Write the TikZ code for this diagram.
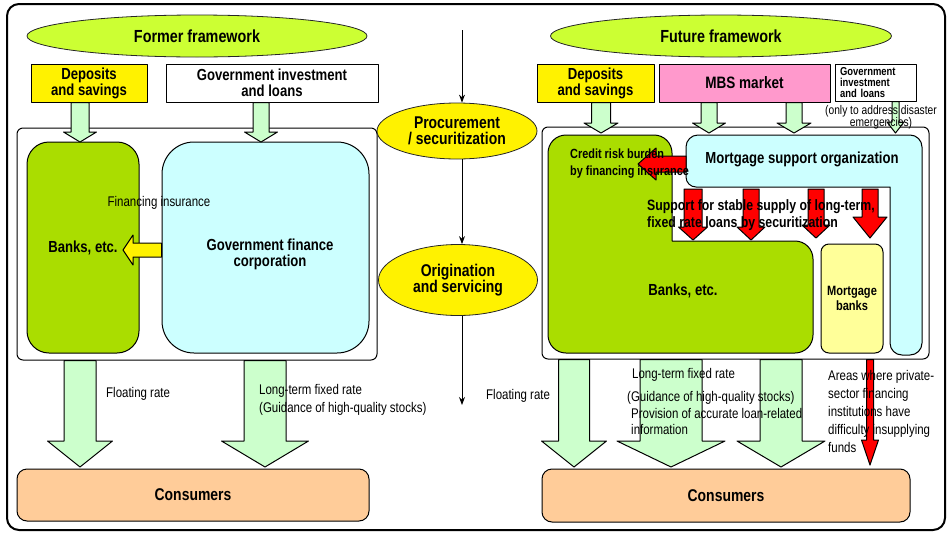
\documentclass[tikz,border=0pt]{standalone}
\usepackage{fontspec}
\setmainfont{Liberation Sans}[FakeStretch=0.82]
\usetikzlibrary{shapes.geometric,arrows.meta,calc}
\definecolor{ellgreen}{HTML}{CCFF33}
\definecolor{bankgreen}{HTML}{AADD00}
\definecolor{paleblue}{HTML}{CCFFFF}
\definecolor{palegreen}{HTML}{CCFFCC}
\definecolor{peach}{HTML}{FFCC99}
\definecolor{mbspink}{HTML}{FF99CC}
\definecolor{paleyellow}{HTML}{FFFF99}
% block arrows: style, start, tip, shaft half width, head half width, head length
\newcommand\blkdown[6]{\draw[#1] let \p1=(#2), \p2=(#3) in
  (\x2-#4,\y1) -- (\x2-#4,\y2+#6) -- (\x2-#5,\y2+#6) -- (\x2,\y2) -- (\x2+#5,\y2+#6) -- (\x2+#4,\y2+#6) -- (\x2+#4,\y1) -- cycle;}
\newcommand\blkleft[6]{\draw[#1] let \p1=(#2), \p2=(#3) in
  (\x1,\y2+#4) -- (\x2+#6,\y2+#4) -- (\x2+#6,\y2+#5) -- (\x2,\y2) -- (\x2+#6,\y2-#5) -- (\x2+#6,\y2-#4) -- (\x1,\y2-#4) -- cycle;}
\begin{document}
\begin{tikzpicture}[x=1pt,y=-1pt,line join=round,>={Stealth[length=8pt,width=6pt]},
	txt/.style={inner sep=0pt,align=center,font=\bfseries\fontsize{16}{16}\selectfont},
	bx/.style={txt,draw,line width=1pt},
	ttl/.style={ellipse,draw=black!85,line width=.8pt,fill=ellgreen,inner sep=0pt,font=\bfseries\fontsize{17.5}{17}\selectfont},
	oval/.style={ellipse,draw=black!85,line width=.8pt,fill=yellow,inner sep=0pt,align=center,font=\bfseries\fontsize{17}{16.5}\selectfont},
	lbl/.style={inner sep=0pt,align=left,font=\fontsize{14}{18}\selectfont},
	grn/.style={draw,line width=1pt,fill=palegreen},
	redarr/.style={draw,line width=1pt,fill=red},
	yelarr/.style={draw,line width=1pt,fill=yellow}]
	\useasboundingbox (0,0) rectangle (951,536);
	\draw[line width=2pt,rounded corners=12pt] (7,4) rectangle (945,530);
	
	% former framework
	\node[ttl,minimum width=340pt,minimum height=42pt] (fmr) at (197,36) {Former framework};
	\node[bx,fill=yellow,minimum width=116pt,minimum height=38pt] (dep1) at (89,83) {Deposits\\and savings};
	\node[bx,fill=white,minimum width=212pt,minimum height=38pt] (gil1) at (272,83) {Government investment\\and loans};
	\node[draw,line width=1pt,rounded corners=6pt,minimum width=360pt,minimum height=232pt] (pnl1) at (197,244) {};
	\node[bx,fill=bankgreen,rounded corners=22pt,minimum width=112pt,minimum height=211pt] (bnk1) at (83,247.5) {Banks, etc.};
	\node[bx,fill=paleblue,rounded corners=32pt,minimum width=207pt,minimum height=211pt] (gfc) at (265.5,247.5) {};
	\node[txt] (gfct) at (270,254) {Government finance\\corporation};
	\path
	(80,142) coordinate (t1)
	(261,142) coordinate (t2)
	(123,250) coordinate (t3)
	(80,467) coordinate (t4)
	(265,467) coordinate (t5)
	;
	\blkdown{grn}{dep1.south}{t1}{9pt}{16.5pt}{10pt}
	\blkdown{grn}{gil1.south}{t2}{8pt}{16.5pt}{10pt}
	\blkleft{yelarr}{gfc.west}{t3}{7pt}{15pt}{10pt}
	\node[lbl] (fin) at (159,203) {Financing insurance};
	\blkdown{grn}{pnl1.south}{t4}{16pt}{32.5pt}{26pt}
	\blkdown{grn}{pnl1.south}{t5}{21pt}{43.5pt}{26pt}
	\node[lbl,anchor=west] (flt1) at (106,394) {Floating rate};
	\node[lbl,anchor=west] (fix1) at (259,400) {Long-term fixed rate\\(Guidance of high-quality stocks)};
	\node[bx,fill=peach,rounded corners=10pt,minimum width=352pt,minimum height=52pt,font=\bfseries\fontsize{17}{17}\selectfont] (con1) at (193,495) {Consumers};
	
	% middle column
	\node[oval,minimum width=160pt,minimum height=56pt] (proc) at (457,131) {Procurement\\/ securitization};
	\node[oval,minimum width=159pt,minimum height=71pt] (orig) at (458,280) {Origination\\and servicing};
	\path (462,30) coordinate (ctop) (462,405) coordinate (cbot);
	\draw[->,line width=1pt] (ctop) -- (ctop |- proc.north);
	\draw[->,line width=1pt] (proc.south -| ctop) -- (orig.north -| ctop);
	\draw[->,line width=1pt] (orig.south -| ctop) -- (cbot);
	
	% future framework
	\node[ttl,minimum width=341pt,minimum height=42pt] (fut) at (721,36) {Future framework};
	\node[bx,fill=yellow,minimum width=117pt,minimum height=38pt] (dep2) at (595.5,83) {Deposits\\and savings};
	\node[bx,fill=mbspink,minimum width=171pt,minimum height=38pt,font=\bfseries\fontsize{16.5}{16}\selectfont] (mbs) at (744.5,83) {MBS market};
	\node[bx,fill=white,minimum width=81pt,minimum height=37pt,align=left,text width=71pt,font=\bfseries\fontsize{11.5}{10.8}\selectfont] (gil2) at (875.5,82.5) {Government\\investment\\and loans};
	\node[draw,line width=1pt,rounded corners=6pt,minimum width=387pt,minimum height=232pt] (pnl2) at (735.5,243) {};
	\filldraw[line width=1pt,fill=bankgreen] (548,240) [rounded corners=18pt] -- (548,135) -- (672,135) -- (672,180) [sharp corners] -- (672,241) -- (720,241) [rounded corners=18pt] -- (813,241) -- (813,353) -- (548,353) -- cycle;
	\filldraw[line width=1pt,fill=paleblue] (686,160) [rounded corners=12pt] -- (686,135) -- (922,135) -- (922,355) -- (890,355) -- (890,300) [sharp corners] -- (890,187) -- (750,187) [rounded corners=10pt] -- (686,187) -- cycle;
	\node[txt] (bnk2) at (683,291) {Banks, etc.};
	\node[txt] (mso) at (802,159) {Mortgage support organization};
	\node[bx,fill=paleyellow,rounded corners=8pt,minimum width=62pt,minimum height=109pt,font=\bfseries\fontsize{13.5}{15}\selectfont] (mbk) at (852,298.5) {Mortgage\\banks};
	\path
	(895.5,133) coordinate (g1)
	(700,189) coordinate (msob)
	(686,164) coordinate (msol)
	(693,240) coordinate (s1)
	(751,240) coordinate (s2)
	(816,238) coordinate (s3)
	(870,238) coordinate (s4)
	(638,164) coordinate (s5)
	(601,133) coordinate (d1)
	(709,133) coordinate (m1)
	(794,133) coordinate (m2)
	;
	\blkdown{grn}{dep2.south}{d1}{9.5pt}{17pt}{10pt}
	\blkdown{grn}{mbs.south}{m1}{8pt}{16.5pt}{10pt}
	\blkdown{grn}{mbs.south}{m2}{8pt}{17pt}{10pt}
	\blkdown{grn}{gil2.south}{g1}{3.5pt}{8.5pt}{11pt}
	\node[lbl,align=center,font=\fontsize{12.5}{12}\selectfont] (emg) at (881,117) {(only to address disaster\\emergencies)};
	\blkdown{redarr}{msob}{s1}{9pt}{14.5pt}{13pt}
	\blkdown{redarr}{msob}{s2}{8pt}{14pt}{13pt}
	\blkdown{redarr}{msob}{s3}{8pt}{14pt}{13pt}
	\blkdown{redarr}{msob}{s4}{8pt}{17pt}{21pt}
	\blkleft{redarr}{msol}{s5}{8pt}{16pt}{18pt}
	\node[txt,anchor=west,align=left,font=\bfseries\fontsize{13.3}{16.5}\selectfont] (crd) at (570,163.5) {Credit risk burden\\by financing insurance};
	\node[txt,anchor=west,align=left,font=\bfseries\fontsize{15}{17}\selectfont] (sup) at (647,215.5) {Support for stable supply of long-term,\\fixed rate loans by securitization};
	\path
	(574,467) coordinate (u1)
	(671,467) coordinate (u2)
	(781,467) coordinate (u3)
	(870,465) coordinate (u4)
	;
	\blkdown{grn}{pnl2.south}{u1}{15.5pt}{32.5pt}{26pt}
	\blkdown{grn}{pnl2.south}{u2}{31pt}{54pt}{26pt}
	\blkdown{grn}{pnl2.south}{u3}{21pt}{44pt}{26pt}
	\blkdown{redarr}{pnl2.south}{u4}{3.5pt}{8.5pt}{25pt}
	\node[lbl,anchor=west] (flt2) at (486,396) {Floating rate};
	\node[lbl,anchor=west] (fix2) at (632,375) {Long-term fixed rate};
	\node[lbl,anchor=west] (gd2) at (627,398) {(Guidance of high-quality stocks)};
	\node[lbl,anchor=west,font=\fontsize{14}{16}\selectfont] (prv) at (631,421) {Provision of accurate loan-related\\information};
	\node[lbl,anchor=west] (area) at (828,411) {Areas where private-\\sector financing\\institutions have\\difficulty insupplying\\funds};
	\node[bx,fill=peach,rounded corners=10pt,minimum width=368pt,minimum height=53pt,font=\bfseries\fontsize{17}{17}\selectfont] (con2) at (726,495.5) {Consumers};
\end{tikzpicture}
\end{document}
